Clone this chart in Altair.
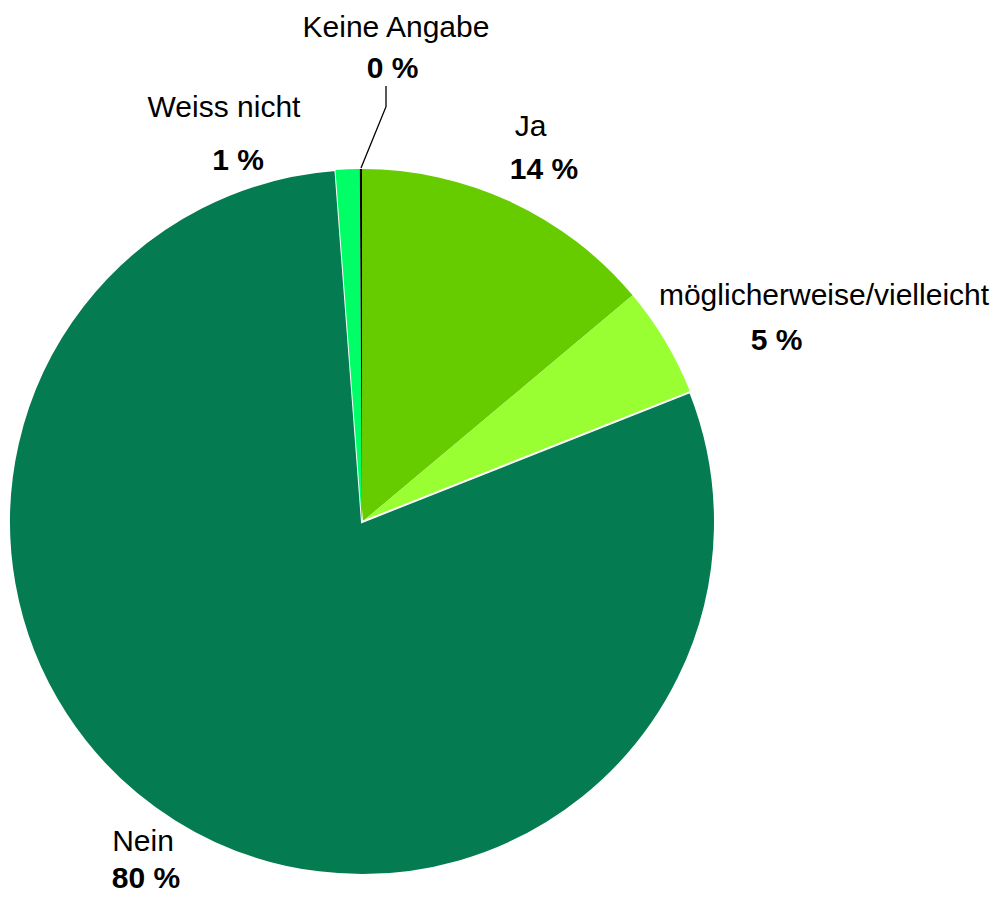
import altair as alt
import pandas as pd

# ---- data ----
categories = ["Ja", "möglicherweise/vielleicht", "Nein", "Weiss nicht", "Keine Angabe"]
shares = [13.9, 5.1, 79.8, 1.1, 0.1]
pct_labels = ["14 %", "5 %", "80 %", "1 %", "0 %"]
colors = ["#66CC00", "#99FF33", "#047B50", "#00FF66", "#000000"]

# ---- layout (plot-area pixels) ----
W, H = 985, 889
CX, CY, R = 354, 514, 353
name_pos = [(522.5, 127.7), (816, 297), (135, 843), (216, 108.7), (388, 29.3)]
pct_pos = [(536, 171), (768.5, 342), (138, 880), (230, 162), (384.5, 69.7)]
leader = [(378, 78), (378, 98.7), (353, 160)]

pie_df = pd.DataFrame({"cat": categories, "val": shares, "idx": list(range(len(categories)))})
names_df = pd.DataFrame({"t": categories,
                         "x": [p[0] for p in name_pos], "y": [p[1] for p in name_pos]})
pcts_df = pd.DataFrame({"t": pct_labels,
                        "x": [p[0] for p in pct_pos], "y": [p[1] for p in pct_pos]})
leader_df = pd.DataFrame({"x": [p[0] for p in leader], "y": [p[1] for p in leader],
                          "o": list(range(len(leader)))})

FONT = "Liberation Sans"

pie = alt.Chart(pie_df).mark_arc(radius=R, stroke="white").encode(
    theta=alt.Theta("val:Q", stack=True),
    order=alt.Order("idx:Q"),
    color=alt.Color("cat:N", scale=alt.Scale(domain=categories, range=colors), legend=None),
    strokeWidth=alt.condition(alt.datum.cat == "Nein", alt.value(2), alt.value(0)),
    x=alt.value(CX),
    y=alt.value(CY),
)

names = alt.Chart(names_df).mark_text(
    font=FONT, fontSize=30, align="center", baseline="alphabetic", color="#000000"
).encode(
    x=alt.X("x:Q", scale=None, axis=None),
    y=alt.Y("y:Q", scale=None, axis=None),
    text="t:N",
)

pcts = alt.Chart(pcts_df).mark_text(
    font=FONT, fontSize=30, fontWeight="bold", align="center", baseline="alphabetic", color="#000000"
).encode(
    x=alt.X("x:Q", scale=None, axis=None),
    y=alt.Y("y:Q", scale=None, axis=None),
    text="t:N",
)

line = alt.Chart(leader_df).mark_line(color="#000000", strokeWidth=1.3).encode(
    x=alt.X("x:Q", scale=None, axis=None),
    y=alt.Y("y:Q", scale=None, axis=None),
    order="o:Q",
)

chart = alt.layer(pie, line, names, pcts).properties(
    width=W, height=H, padding=0,
    autosize=alt.AutoSizeParams(type="none"),
).configure_view(stroke=None)

chart.save("out.html", embed_options={"renderer": "svg", "actions": False})
